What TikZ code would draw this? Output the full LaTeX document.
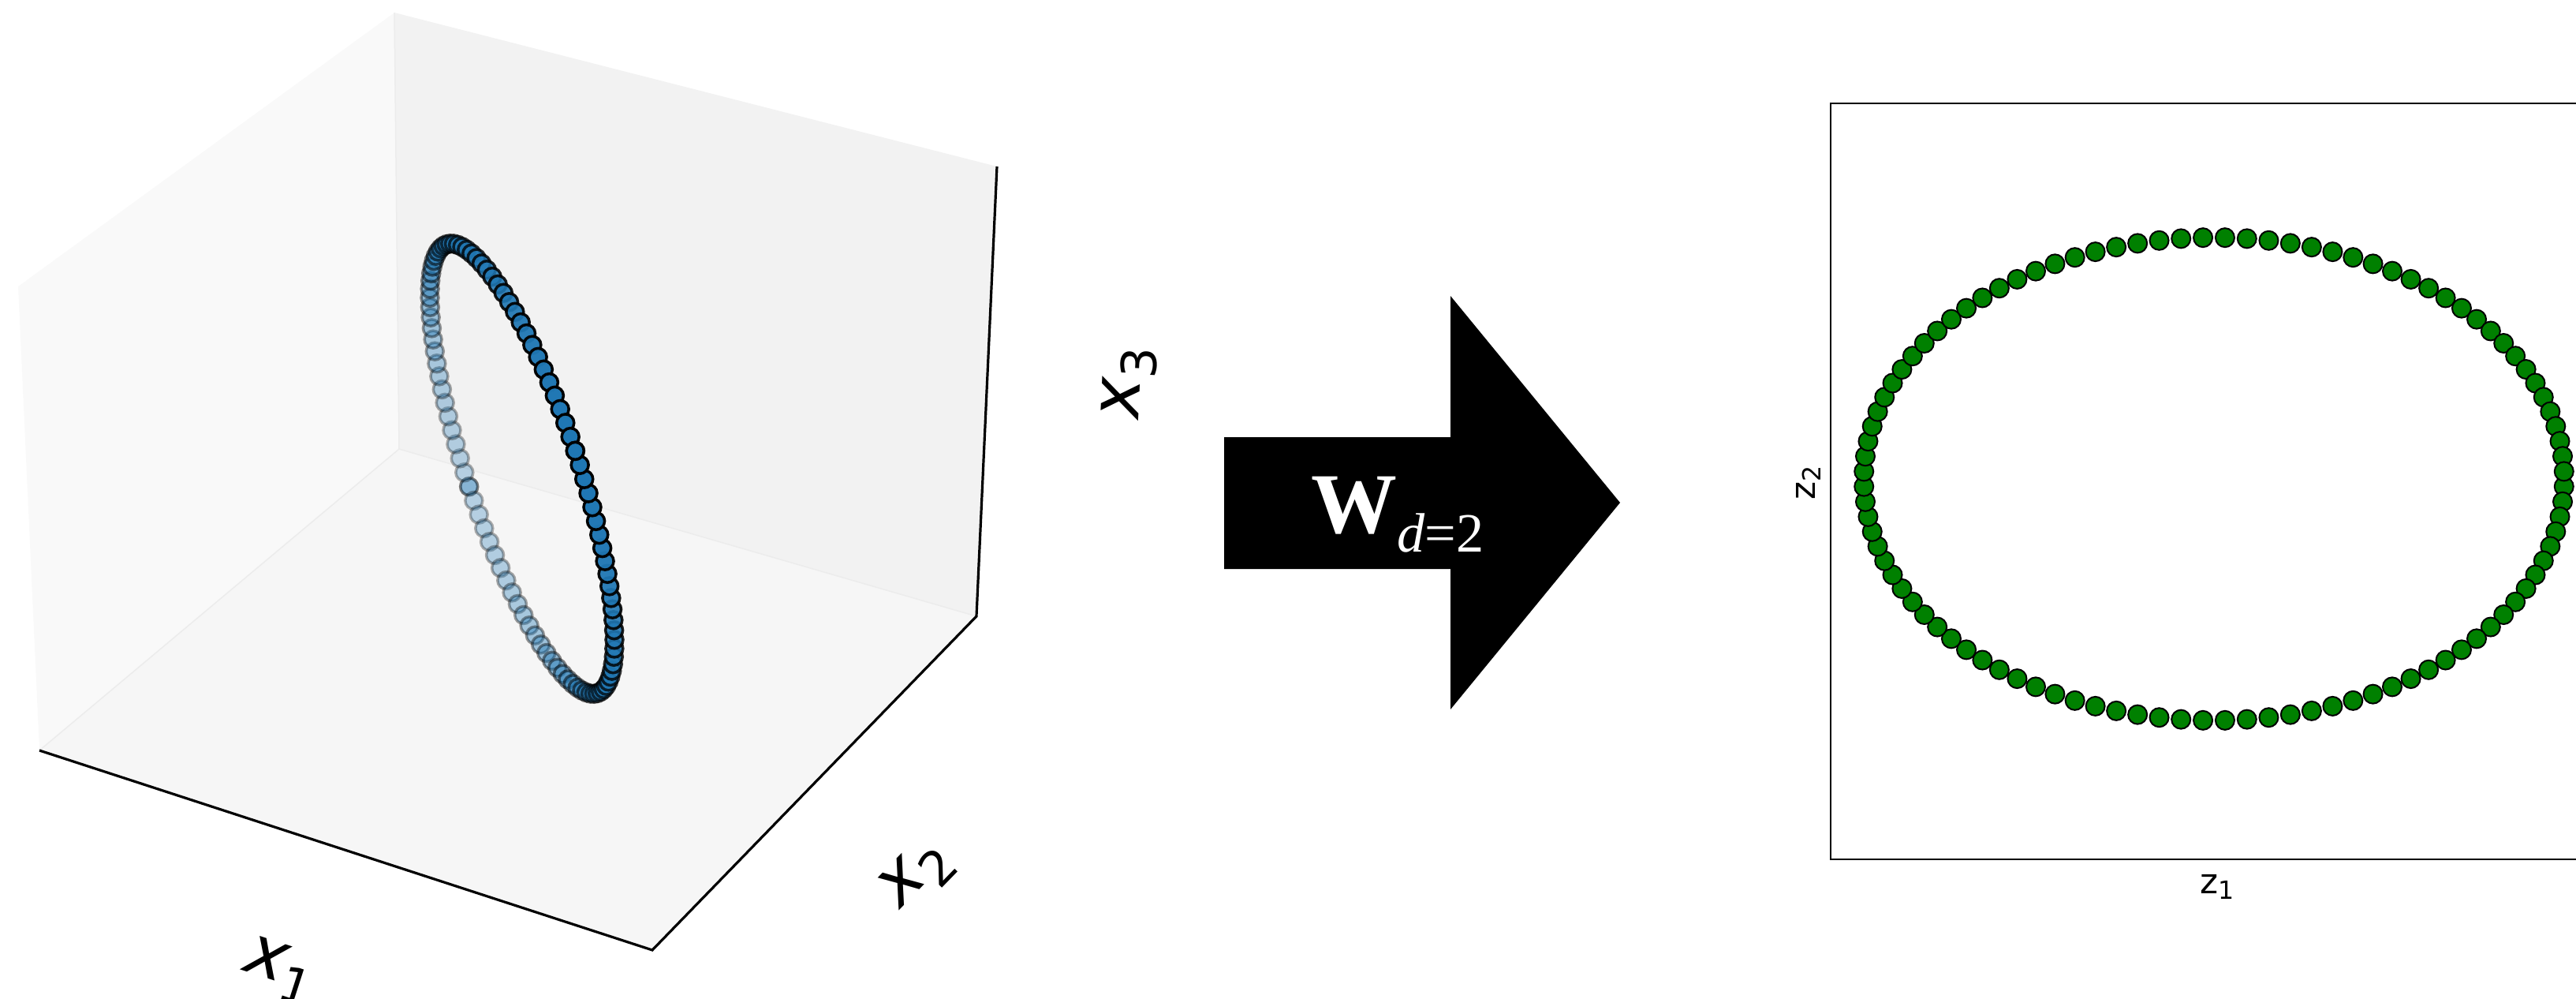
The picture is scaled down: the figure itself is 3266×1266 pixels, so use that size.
\documentclass[tikz,border=0pt]{standalone}
\usepackage{fontspec}
\setmainfont{Liberation Serif}
\newfontfamily\mplfont{DejaVu Sans}
\usetikzlibrary{positioning}
\definecolor{ringblue}{RGB}{31, 119, 180}
\definecolor{dotgreen}{RGB}{0, 128, 0}
\definecolor{paneleft}{gray}{0.975}
\definecolor{paneback}{gray}{0.95}
\definecolor{panefloor}{gray}{0.9625}
\definecolor{paneedge}{gray}{0.925}

\begin{document}
\begin{tikzpicture}[x=0.1mm, y=-0.1mm,
    axisline/.style={line width=0.32mm, black},
    edgeline/.style={line width=0.15mm, paneedge},
    axlabel/.style={font=\mplfont\fontsize{25}{30}\selectfont, inner sep=0pt},
    zlabel/.style={font=\mplfont\fontsize{12.5}{15}\selectfont, inner sep=0pt},
    ringdot/.style={fill=ringblue, draw=black, line width=0.35mm},
    zdot/.style={fill=dotgreen, draw=black, line width=0.2mm}]
    \useasboundingbox (0,0) rectangle (3266,1266);
    \clip (0,0) rectangle (3266,1266);

    % Corners of the 3D box
    \coordinate (lefttop) at (23,363);
    \coordinate (topback) at (500,16);
    \coordinate (backbot) at (506,569);
    \coordinate (frontleft) at (50,951);
    \coordinate (frontbot) at (827,1204);
    \coordinate (botright) at (1238,781);
    \coordinate (topright) at (1264,211);

    % Panes
    \fill[paneleft] (lefttop) -- (topback) -- (backbot) -- (frontleft) -- cycle;
    \fill[paneback] (topback) -- (topright) -- (botright) -- (backbot) -- cycle;
    \fill[panefloor] (frontleft) -- (backbot) -- (botright) -- (frontbot) -- cycle;
    \draw[edgeline] (topback) -- (backbot) -- (botright);
    \draw[edgeline] (backbot) -- (frontleft);

    % Axis lines
    \draw[axisline] (frontleft) -- (frontbot) -- (botright) -- (topright);
    \node[axlabel, rotate=-17.9] (xonelab) at (354,1230) {\itshape x\raisebox{-0.22em}{\fontsize{17.5}{20}\selectfont\upshape 1}};
    \node[axlabel, rotate=45.8] (xtwolab) at (1163,1110) {\itshape x\raisebox{-0.22em}{\fontsize{17.5}{20}\selectfont\upshape 2}};
    \node[axlabel, rotate=87.3] (xthreelab) at (1432,485) {\itshape x\raisebox{-0.22em}{\fontsize{17.5}{20}\selectfont\upshape 3}};

    % Ring of points, back to front
    \foreach \j in {0,...,50} {
        \foreach \t in {270-3.6*\j, 270+3.6*\j} {
            \pgfmathsetmacro\al{0.3+0.35*(1+sin(\t))}
            \draw[ringdot, fill opacity=\al, draw opacity=\al]
                ({662+300*cos(\t)*0.319+71*sin(\t)*0.948}, {594+300*cos(\t)*0.948-71*sin(\t)*0.319}) circle (11);
        }
    }

    % Block arrow
    \fill[black] (1552,554) -- (1839,554) -- (1839,375) -- (2054,637)
        -- (1839,899) -- (1839,721) -- (1552,721) -- cycle;
    \node[anchor=base west, inner sep=0pt, text=white, font=\fontsize{31}{36}\selectfont] (wlabel) at (1662,675)
        {\textbf{W}\raisebox{-2.4mm}{\fontsize{20}{24}\selectfont\textit{d}=2}};

    % Projected points
    \draw[line width=0.2mm] (3300,131) -- (2321,131) -- (2321,1089) -- (3300,1089);
    \foreach \i in {0,...,99} {
        \draw[zdot] ({2807+444*cos(3.6*\i+1.8)}, {607+306*sin(3.6*\i+1.8)}) circle (12);
    }
    \node[zlabel] (zonelab) at (2811,1124) {z\raisebox{-0.18em}{\fontsize{9}{11}\selectfont 1}};
    \node[zlabel, rotate=90] (ztwolab) at (2293,612) {z\raisebox{-0.18em}{\fontsize{9}{11}\selectfont 2}};
\end{tikzpicture}
\end{document}
